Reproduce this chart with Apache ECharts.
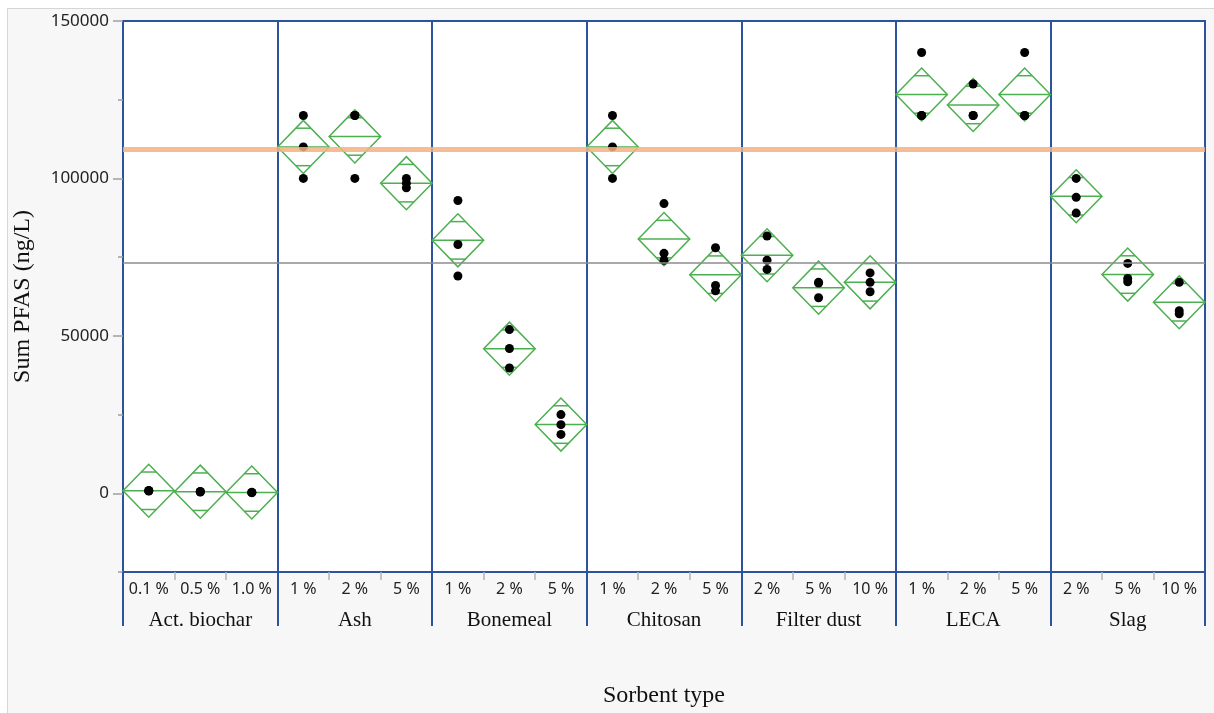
<!DOCTYPE html>
<html>
<head>
<meta charset="utf-8">
<title>Sum PFAS by sorbent type</title>
<script src="https://cdn.jsdelivr.net/npm/echarts@6/dist/echarts.min.js"></script>
<style>
  html, body { margin: 0; padding: 0; background: #ffffff; }
  #frame {
    position: absolute; left: 7px; top: 8px; width: 1214px; height: 713px;
    background: #f7f7f7; border: 1px solid #d6d6d6; box-sizing: border-box;
  }
  #chart { position: absolute; left: 0; top: 0; width: 1214px; height: 713px; }
</style>
</head>
<body>
<div id="frame"></div>
<div id="chart"></div>
<script>
// Sorbent groups and the dose levels tested within each group
const groups = ['Act. biochar', 'Ash', 'Bonemeal', 'Chitosan', 'Filter dust', 'LECA', 'Slag'];
const doses = [
  '0.1 %', '0.5 %', '1.0 %',
  '1 %', '2 %', '5 %',
  '1 %', '2 %', '5 %',
  '1 %', '2 %', '5 %',
  '2 %', '5 %', '10 %',
  '1 %', '2 %', '5 %',
  '2 %', '5 %', '10 %'
];

// Replicate measurements of Sum PFAS (ng/L), one value per dose level
const rep1 = [900, 600, 300, 120000, 120000, 100000, 93000, 52000, 25000, 120000, 92000, 78000, 81700, 67000, 70000, 140000, 130000, 140000, 100000, 73000, 67000];
const rep2 = [800, 500, 250, 110000, 120000, 98500, 79000, 46000, 21800, 110000, 76200, 66000, 74000, 66800, 67000, 120000, 120000, 120000, 94000, 68200, 58000];
const rep3 = [700, 400, 200, 100000, 100000, 97000, 69000, 39800, 18700, 100000, 74000, 64300, 71100, 62100, 64000, 120000, 120000, 120000, 89000, 67200, 57000];

// Group means (centre line of each diamond)
const means = [800, 500, 250, 110000, 113333, 98500, 80333, 45933, 21833, 110000, 80733, 69433, 75600, 65300, 67000, 126667, 123333, 126667, 94333, 69467, 60667];

// Half-height of the 95 % confidence diamond (pooled error, same for all levels)
const ciHalf = 8420;

// Horizontal reference levels
const refHigh = 109300;
const refMean = 73200;

// Y-axis tick values
const yMajorTicks = [0, 50000, 100000, 150000];
const yMinorTicks = [-25000, 25000, 75000, 125000];

const BLUE = '#2e539e';
const GREEN = '#4caf50';
const SERIF = '"Liberation Serif", "Times New Roman", serif';
const SANS = '"Noto Sans", "Open Sans", sans-serif';

const points = [];
[rep1, rep2, rep3].forEach(rep => rep.forEach((v, i) => points.push([i, v])));

function renderDiamond(params, api) {
  const i = api.value(0);
  const m = api.value(1);
  const c = api.coord([i, m]);
  const half = api.size([1, 0])[0] / 2;
  const yTop = api.coord([i, m + ciHalf])[1];
  const yBot = api.coord([i, m - ciHalf])[1];
  const yUp = api.coord([i, m + ciHalf / Math.SQRT2])[1];
  const yDn = api.coord([i, m - ciHalf / Math.SQRT2])[1];
  const mh = half * (1 - 1 / Math.SQRT2);
  const style = { stroke: GREEN, lineWidth: 1.5, fill: null };
  return {
    type: 'group',
    children: [
      { type: 'polygon', shape: { points: [[c[0] - half, c[1]], [c[0], yTop], [c[0] + half, c[1]], [c[0], yBot]] }, style },
      { type: 'line', shape: { x1: c[0] - half, y1: c[1], x2: c[0] + half, y2: c[1] }, style },
      { type: 'line', shape: { x1: c[0] - mh, y1: yUp, x2: c[0] + mh, y2: yUp }, style },
      { type: 'line', shape: { x1: c[0] - mh, y1: yDn, x2: c[0] + mh, y2: yDn }, style }
    ]
  };
}

const chart = echarts.init(document.getElementById('chart'), null, { renderer: 'canvas' });

chart.setOption({
  backgroundColor: 'transparent',
  animation: false,
  grid: {
    left: 123, top: 21, width: 1082, height: 552,
    show: true, backgroundColor: '#ffffff', borderColor: BLUE, borderWidth: 2
  },
  xAxis: [
    {
      type: 'category', data: doses, position: 'bottom', offset: 0, boundaryGap: true,
      axisLine: { show: false, onZero: false },
      axisTick: { show: true, interval: 0, length: 8, lineStyle: { color: '#b4b4b4', width: 1.5 } },
      axisLabel: { interval: 0, margin: 9, fontSize: 16, fontFamily: SANS, color: '#222' },
      splitLine: { show: false }
    },
    {
      type: 'category', data: groups, position: 'bottom', offset: 0, boundaryGap: true,
      axisLine: { show: false, onZero: false },
      axisTick: { show: true, interval: 0, length: 54, lineStyle: { color: BLUE, width: 2 } },
      axisLabel: { interval: 0, margin: 38, fontSize: 21, fontFamily: SERIF, color: '#111' },
      splitLine: { show: true, interval: 0, lineStyle: { color: BLUE, width: 2 } },
      name: 'Sorbent type', nameLocation: 'middle', nameGap: 112,
      nameTextStyle: { fontSize: 24, fontFamily: SERIF, color: '#111' }
    }
  ],
  yAxis: [
    {
      type: 'value', min: -25000, max: 150000, interval: 25000, position: 'left', offset: 0,
      axisLine: { show: false, onZero: false },
      axisTick: { show: true, length: 10, customValues: yMajorTicks, lineStyle: { color: '#a0a0a0', width: 1.5 } },
      axisLabel: {
        customValues: yMajorTicks, margin: 14, fontSize: 17, fontFamily: SANS, color: '#222',
        formatter: v => String(v)
      },
      splitLine: { show: false },
      name: 'Sum PFAS (ng/L)', nameLocation: 'middle', nameRotate: 90, nameGap: 88,
      nameTextStyle: { fontSize: 24, fontFamily: SERIF, color: '#111' }
    },
    {
      type: 'value', min: -25000, max: 150000, interval: 25000, position: 'left', offset: 0,
      axisLine: { show: false, onZero: false },
      axisTick: { show: true, length: 5, customValues: yMinorTicks, lineStyle: { color: '#a0a0a0', width: 1.5 } },
      axisLabel: { show: false },
      splitLine: { show: false }
    }
  ],
  series: [
    {
      // overall mean reference line
      type: 'line', data: [], xAxisIndex: 0, yAxisIndex: 0, z: 1,
      markLine: {
        silent: true, symbol: 'none', label: { show: false },
        lineStyle: { color: '#8c8c8c', width: 1.5, type: 'solid' },
        data: [{ yAxis: refMean }]
      }
    },
    {
      type: 'custom', xAxisIndex: 0, yAxisIndex: 0, z: 3,
      renderItem: renderDiamond,
      data: means.map((m, i) => [i, m])
    },
    {
      type: 'scatter', xAxisIndex: 0, yAxisIndex: 0, z: 4,
      symbol: 'circle', symbolSize: 9,
      itemStyle: { color: '#000000', opacity: 1 },
      data: points
    },
    {
      // upper reference line
      type: 'line', data: [], xAxisIndex: 0, yAxisIndex: 0, z: 5,
      markLine: {
        silent: true, symbol: 'none', label: { show: false },
        lineStyle: { color: '#f4b183', width: 5, type: 'solid', opacity: 0.85 },
        data: [{ yAxis: refHigh }]
      }
    }
  ]
});
</script>
</body>
</html>
